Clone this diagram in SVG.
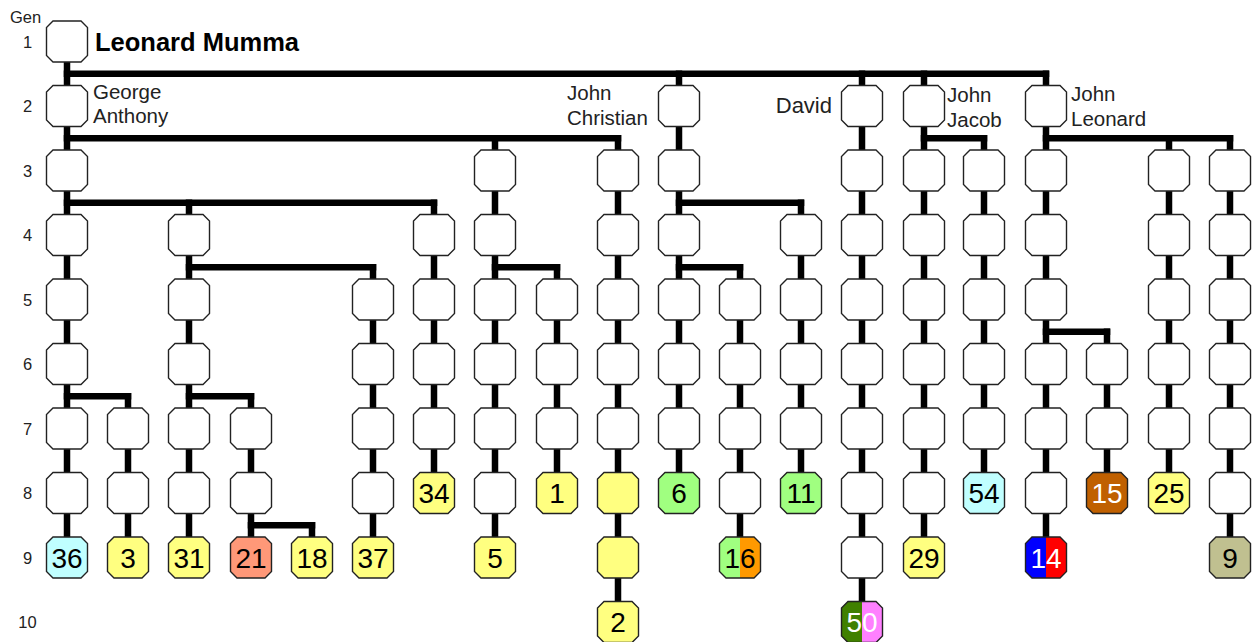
<svg xmlns="http://www.w3.org/2000/svg" xmlns:xlink="http://www.w3.org/1999/xlink" width="1252" height="642" viewBox="0 0 1252 642">
<style>
text { font-family: "Liberation Sans", Arial, sans-serif; fill: #000; }
.gen { font-size: 16.5px; text-anchor: middle; fill: #222; }
.name { font-size: 20.5px; fill: #222; }
.title { font-size: 25.5px; font-weight: bold; }
.node use { stroke: #222; stroke-width: 1.4; fill: #fff; }
.node text { font-size: 28px; text-anchor: middle; }
.node text.w { fill: #fff; }
.node use.y { fill: #ffff80; }
.node use.c { fill: #c0ffff; }
.node use.g { fill: #a0ff80; }
.node use.s { fill: #ff9878; }
.node use.b { fill: #c06000; }
.node use.k { fill: #c0c090; }
.node use.x16 { fill: url(#g16); }
.node use.x14 { fill: url(#g14); }
.node use.x50 { fill: url(#g50); }
</style>
<defs>
<polygon id="oct" points="-14,-20.5 14,-20.5 20.5,-14 20.5,14 14,20.5 -14,20.5 -20.5,14 -20.5,-14"/>
<linearGradient id="g16" x1="0" y1="0" x2="1" y2="0"><stop offset="0.5" stop-color="#a0ff80"/><stop offset="0.5" stop-color="#ff9900"/></linearGradient>
<linearGradient id="g14" x1="0" y1="0" x2="1" y2="0"><stop offset="0.5" stop-color="#0000ff"/><stop offset="0.5" stop-color="#ff0000"/></linearGradient>
<linearGradient id="g50" x1="0" y1="0" x2="1" y2="0"><stop offset="0.5" stop-color="#408000"/><stop offset="0.5" stop-color="#ff80ff"/></linearGradient>
</defs>
<rect width="1252" height="642" fill="#fff"/>

<g id="gen-labels">
<text x="10" y="23" style="font-size:16.5px;fill:#222">Gen</text>
<text class="gen" x="27.5" y="47.5">1</text>
<text class="gen" x="27.5" y="112">2</text>
<text class="gen" x="27.5" y="176.5">3</text>
<text class="gen" x="27.5" y="241">4</text>
<text class="gen" x="27.5" y="305.5">5</text>
<text class="gen" x="27.5" y="370">6</text>
<text class="gen" x="27.5" y="434.5">7</text>
<text class="gen" x="27.5" y="499">8</text>
<text class="gen" x="27.5" y="563.5">9</text>
<text class="gen" x="27.5" y="628">10</text>
</g>

<g id="connectors" stroke="#000" stroke-width="6.5" stroke-linecap="square" fill="none">
<path d="M67 41.5V557.5"/>
<path d="M128 396.25V557.5"/>
<path d="M189 202.75V557.5"/>
<path d="M251 396.25V557.5"/>
<path d="M312 525.25V557.5"/>
<path d="M373 267.25V557.5"/>
<path d="M434 202.75V493"/>
<path d="M495 138.25V557.5"/>
<path d="M557 267.25V493"/>
<path d="M618 138.25V622"/>
<path d="M679 73.75V493"/>
<path d="M740 267.25V557.5"/>
<path d="M801 202.75V493"/>
<path d="M862 73.75V622"/>
<path d="M924 73.75V557.5"/>
<path d="M984 138.25V493"/>
<path d="M1046 73.75V557.5"/>
<path d="M1107 331.75V493"/>
<path d="M1169 138.25V493"/>
<path d="M1230 138.25V557.5"/>
<path d="M67 73.75H1046"/>
<path d="M67 138.25H618"/>
<path d="M924 138.25H984"/>
<path d="M1046 138.25H1230"/>
<path d="M67 202.75H434"/>
<path d="M679 202.75H801"/>
<path d="M189 267.25H373"/>
<path d="M495 267.25H557"/>
<path d="M679 267.25H740"/>
<path d="M1046 331.75H1107"/>
<path d="M67 396.25H128"/>
<path d="M189 396.25H251"/>
<path d="M251 525.25H312"/>
</g>

<g id="names">
<text class="title" x="95" y="50.5">Leonard Mumma</text>
<text class="name" x="93" y="99">George</text>
<text class="name" x="93" y="122.5">Anthony</text>
<text class="name" x="567" y="99.5">John</text>
<text class="name" x="567" y="124.5">Christian</text>
<text class="name" x="832" y="113" text-anchor="end" style="font-size:22px">David</text>
<text class="name" x="947" y="102">John</text>
<text class="name" x="947" y="126.5">Jacob</text>
<text class="name" x="1071" y="101">John</text>
<text class="name" x="1071" y="125.5">Leonard</text>
</g>

<!-- Generation 1 -->
<g id="n1-1" class="node"><use href="#oct" x="67" y="41.5"/></g>
<!-- Generation 2 -->
<g id="n2-1" class="node"><use href="#oct" x="67" y="106"/></g>
<g id="n2-11" class="node"><use href="#oct" x="679" y="106"/></g>
<g id="n2-14" class="node"><use href="#oct" x="862" y="106"/></g>
<g id="n2-15" class="node"><use href="#oct" x="924" y="106"/></g>
<g id="n2-17" class="node"><use href="#oct" x="1046" y="106"/></g>
<!-- Generation 3 -->
<g id="n3-1" class="node"><use href="#oct" x="67" y="170.5"/></g>
<g id="n3-8" class="node"><use href="#oct" x="495" y="170.5"/></g>
<g id="n3-10" class="node"><use href="#oct" x="618" y="170.5"/></g>
<g id="n3-11" class="node"><use href="#oct" x="679" y="170.5"/></g>
<g id="n3-14" class="node"><use href="#oct" x="862" y="170.5"/></g>
<g id="n3-15" class="node"><use href="#oct" x="924" y="170.5"/></g>
<g id="n3-16" class="node"><use href="#oct" x="984" y="170.5"/></g>
<g id="n3-17" class="node"><use href="#oct" x="1046" y="170.5"/></g>
<g id="n3-19" class="node"><use href="#oct" x="1169" y="170.5"/></g>
<g id="n3-20" class="node"><use href="#oct" x="1230" y="170.5"/></g>
<!-- Generation 4 -->
<g id="n4-1" class="node"><use href="#oct" x="67" y="235"/></g>
<g id="n4-3" class="node"><use href="#oct" x="189" y="235"/></g>
<g id="n4-7" class="node"><use href="#oct" x="434" y="235"/></g>
<g id="n4-8" class="node"><use href="#oct" x="495" y="235"/></g>
<g id="n4-10" class="node"><use href="#oct" x="618" y="235"/></g>
<g id="n4-11" class="node"><use href="#oct" x="679" y="235"/></g>
<g id="n4-13" class="node"><use href="#oct" x="801" y="235"/></g>
<g id="n4-14" class="node"><use href="#oct" x="862" y="235"/></g>
<g id="n4-15" class="node"><use href="#oct" x="924" y="235"/></g>
<g id="n4-16" class="node"><use href="#oct" x="984" y="235"/></g>
<g id="n4-17" class="node"><use href="#oct" x="1046" y="235"/></g>
<g id="n4-19" class="node"><use href="#oct" x="1169" y="235"/></g>
<g id="n4-20" class="node"><use href="#oct" x="1230" y="235"/></g>
<!-- Generation 5 -->
<g id="n5-1" class="node"><use href="#oct" x="67" y="299.5"/></g>
<g id="n5-3" class="node"><use href="#oct" x="189" y="299.5"/></g>
<g id="n5-6" class="node"><use href="#oct" x="373" y="299.5"/></g>
<g id="n5-7" class="node"><use href="#oct" x="434" y="299.5"/></g>
<g id="n5-8" class="node"><use href="#oct" x="495" y="299.5"/></g>
<g id="n5-9" class="node"><use href="#oct" x="557" y="299.5"/></g>
<g id="n5-10" class="node"><use href="#oct" x="618" y="299.5"/></g>
<g id="n5-11" class="node"><use href="#oct" x="679" y="299.5"/></g>
<g id="n5-12" class="node"><use href="#oct" x="740" y="299.5"/></g>
<g id="n5-13" class="node"><use href="#oct" x="801" y="299.5"/></g>
<g id="n5-14" class="node"><use href="#oct" x="862" y="299.5"/></g>
<g id="n5-15" class="node"><use href="#oct" x="924" y="299.5"/></g>
<g id="n5-16" class="node"><use href="#oct" x="984" y="299.5"/></g>
<g id="n5-17" class="node"><use href="#oct" x="1046" y="299.5"/></g>
<g id="n5-19" class="node"><use href="#oct" x="1169" y="299.5"/></g>
<g id="n5-20" class="node"><use href="#oct" x="1230" y="299.5"/></g>
<!-- Generation 6 -->
<g id="n6-1" class="node"><use href="#oct" x="67" y="364"/></g>
<g id="n6-3" class="node"><use href="#oct" x="189" y="364"/></g>
<g id="n6-6" class="node"><use href="#oct" x="373" y="364"/></g>
<g id="n6-7" class="node"><use href="#oct" x="434" y="364"/></g>
<g id="n6-8" class="node"><use href="#oct" x="495" y="364"/></g>
<g id="n6-9" class="node"><use href="#oct" x="557" y="364"/></g>
<g id="n6-10" class="node"><use href="#oct" x="618" y="364"/></g>
<g id="n6-11" class="node"><use href="#oct" x="679" y="364"/></g>
<g id="n6-12" class="node"><use href="#oct" x="740" y="364"/></g>
<g id="n6-13" class="node"><use href="#oct" x="801" y="364"/></g>
<g id="n6-14" class="node"><use href="#oct" x="862" y="364"/></g>
<g id="n6-15" class="node"><use href="#oct" x="924" y="364"/></g>
<g id="n6-16" class="node"><use href="#oct" x="984" y="364"/></g>
<g id="n6-17" class="node"><use href="#oct" x="1046" y="364"/></g>
<g id="n6-18" class="node"><use href="#oct" x="1107" y="364"/></g>
<g id="n6-19" class="node"><use href="#oct" x="1169" y="364"/></g>
<g id="n6-20" class="node"><use href="#oct" x="1230" y="364"/></g>
<!-- Generation 7 -->
<g id="n7-1" class="node"><use href="#oct" x="67" y="428.5"/></g>
<g id="n7-2" class="node"><use href="#oct" x="128" y="428.5"/></g>
<g id="n7-3" class="node"><use href="#oct" x="189" y="428.5"/></g>
<g id="n7-4" class="node"><use href="#oct" x="251" y="428.5"/></g>
<g id="n7-6" class="node"><use href="#oct" x="373" y="428.5"/></g>
<g id="n7-7" class="node"><use href="#oct" x="434" y="428.5"/></g>
<g id="n7-8" class="node"><use href="#oct" x="495" y="428.5"/></g>
<g id="n7-9" class="node"><use href="#oct" x="557" y="428.5"/></g>
<g id="n7-10" class="node"><use href="#oct" x="618" y="428.5"/></g>
<g id="n7-11" class="node"><use href="#oct" x="679" y="428.5"/></g>
<g id="n7-12" class="node"><use href="#oct" x="740" y="428.5"/></g>
<g id="n7-13" class="node"><use href="#oct" x="801" y="428.5"/></g>
<g id="n7-14" class="node"><use href="#oct" x="862" y="428.5"/></g>
<g id="n7-15" class="node"><use href="#oct" x="924" y="428.5"/></g>
<g id="n7-16" class="node"><use href="#oct" x="984" y="428.5"/></g>
<g id="n7-17" class="node"><use href="#oct" x="1046" y="428.5"/></g>
<g id="n7-18" class="node"><use href="#oct" x="1107" y="428.5"/></g>
<g id="n7-19" class="node"><use href="#oct" x="1169" y="428.5"/></g>
<g id="n7-20" class="node"><use href="#oct" x="1230" y="428.5"/></g>
<!-- Generation 8 -->
<g id="n8-1" class="node"><use href="#oct" x="67" y="493"/></g>
<g id="n8-2" class="node"><use href="#oct" x="128" y="493"/></g>
<g id="n8-3" class="node"><use href="#oct" x="189" y="493"/></g>
<g id="n8-4" class="node"><use href="#oct" x="251" y="493"/></g>
<g id="n8-6" class="node"><use href="#oct" x="373" y="493"/></g>
<g id="n8-7" class="node"><use href="#oct" x="434" y="493" class="y"/><text x="434" y="503">34</text></g>
<g id="n8-8" class="node"><use href="#oct" x="495" y="493"/></g>
<g id="n8-9" class="node"><use href="#oct" x="557" y="493" class="y"/><text x="557" y="503">1</text></g>
<g id="n8-10" class="node"><use href="#oct" x="618" y="493" class="y"/></g>
<g id="n8-11" class="node"><use href="#oct" x="679" y="493" class="g"/><text x="679" y="503">6</text></g>
<g id="n8-12" class="node"><use href="#oct" x="740" y="493"/></g>
<g id="n8-13" class="node"><use href="#oct" x="801" y="493" class="g"/><text x="801" y="503">11</text></g>
<g id="n8-14" class="node"><use href="#oct" x="862" y="493"/></g>
<g id="n8-15" class="node"><use href="#oct" x="924" y="493"/></g>
<g id="n8-16" class="node"><use href="#oct" x="984" y="493" class="c"/><text x="984" y="503">54</text></g>
<g id="n8-17" class="node"><use href="#oct" x="1046" y="493"/></g>
<g id="n8-18" class="node"><use href="#oct" x="1107" y="493" class="b"/><text class="w" x="1107" y="503">15</text></g>
<g id="n8-19" class="node"><use href="#oct" x="1169" y="493" class="y"/><text x="1169" y="503">25</text></g>
<g id="n8-20" class="node"><use href="#oct" x="1230" y="493"/></g>
<!-- Generation 9 -->
<g id="n9-1" class="node"><use href="#oct" x="67" y="557.5" class="c"/><text x="67" y="567.5">36</text></g>
<g id="n9-2" class="node"><use href="#oct" x="128" y="557.5" class="y"/><text x="128" y="567.5">3</text></g>
<g id="n9-3" class="node"><use href="#oct" x="189" y="557.5" class="y"/><text x="189" y="567.5">31</text></g>
<g id="n9-4" class="node"><use href="#oct" x="251" y="557.5" class="s"/><text x="251" y="567.5">21</text></g>
<g id="n9-5" class="node"><use href="#oct" x="312" y="557.5" class="y"/><text x="312" y="567.5">18</text></g>
<g id="n9-6" class="node"><use href="#oct" x="373" y="557.5" class="y"/><text x="373" y="567.5">37</text></g>
<g id="n9-8" class="node"><use href="#oct" x="495" y="557.5" class="y"/><text x="495" y="567.5">5</text></g>
<g id="n9-10" class="node"><use href="#oct" x="618" y="557.5" class="y"/></g>
<g id="n9-12" class="node"><use href="#oct" x="740" y="557.5" class="x16"/><text x="740" y="567.5">16</text></g>
<g id="n9-14" class="node"><use href="#oct" x="862" y="557.5"/></g>
<g id="n9-15" class="node"><use href="#oct" x="924" y="557.5" class="y"/><text x="924" y="567.5">29</text></g>
<g id="n9-17" class="node"><use href="#oct" x="1046" y="557.5" class="x14"/><text class="w" x="1046" y="567.5">14</text></g>
<g id="n9-20" class="node"><use href="#oct" x="1230" y="557.5" class="k"/><text x="1230" y="567.5">9</text></g>
<!-- Generation 10 -->
<g id="n10-10" class="node"><use href="#oct" x="618" y="622" class="y"/><text x="618" y="632">2</text></g>
<g id="n10-14" class="node"><use href="#oct" x="862" y="622" class="x50"/><text class="w" x="862" y="632">50</text></g>
</svg>
